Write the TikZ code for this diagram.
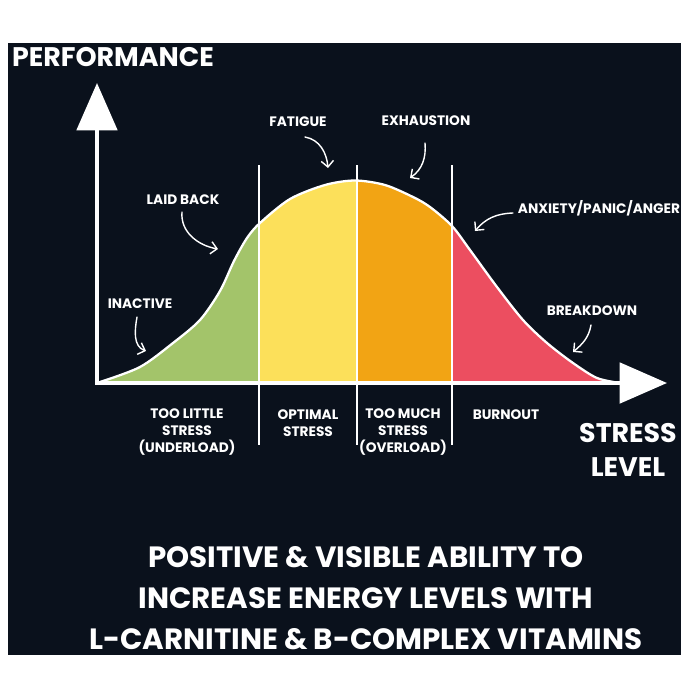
\documentclass[tikz,border=0pt]{standalone}
\usepackage{fontspec}
\setmainfont{Poppins}
\usetikzlibrary{arrows.meta}
\definecolor{bgnavy}{HTML}{0A111C}
\definecolor{lowgreen}{HTML}{A3C46A}
\definecolor{optyellow}{HTML}{FCE05A}
\definecolor{overorange}{HTML}{F2A414}
\definecolor{burnred}{HTML}{EC4E60}
\tikzset{lbl/.style={
    text=white,
    font=\bfseries\fontsize{7.8}{9.6}\selectfont,
    align=center,
    inner sep=0pt
  },
  axislbl/.style={lbl,font=\bfseries\fontsize{15.3}{19.3}\selectfont},
  titlelbl/.style={lbl,font=\bfseries\fontsize{16.7}{23.5}\selectfont},
  axisline/.style={white,line width=2.3pt,line cap=rect,-{Triangle[length=27pt,width=23pt]}},
  zoneline/.style={white,line width=1.1pt},
  pointer/.style={white,line width=0.8pt,line cap=round,-{Straight Barb[length=3.5pt,width=7pt]}},
}
\def\bellpath{plot[smooth] coordinates {(100,382) (140,367) (173,343) (200,320) (220,291)
  (234,261) (247,238) (260,223) (290,199) (325,185) (355,180.5) (385,185) (413,197)
  (430,207) (452,226) (470,250) (497,287) (523,320) (547,343) (573,363) (597,378) (620,383)}}

\begin{document}
\begin{tikzpicture}[x=0.02cm,y=-0.02cm]
  \fill[white] (0,0) rectangle (690,700);
  \useasboundingbox (0,0) rectangle (690,700);
  \fill[bgnavy] (8,43) rectangle (681,655);

  \begin{scope}
    \clip \bellpath -- cycle;
    \fill[lowgreen] (90,390) rectangle (259,150);
    \fill[optyellow] (259,390) rectangle (357,150);
    \fill[overorange] (357,390) rectangle (452,150);
    \fill[burnred] (452,390) rectangle (650,150);
  \end{scope}
  \draw[white,line width=1.3pt] \bellpath;

  \foreach \x in {259,357,452}
    \draw[zoneline] (\x,165) -- (\x,445);

  \coordinate (origin) at (97,383);
  \coordinate (ytip) at (97,83);
  \coordinate (xtip) at (667,383);
  \draw[axisline] (origin) -- (ytip);
  \draw[axisline] (origin) -- (xtip);

  \node[axislbl] (perf) at (113,57.5) {PERFORMANCE};
  \node[axislbl] (stress) at (628,450) {STRESS\\LEVEL};

  \node[lbl] (fatigue) at (298,122) {FATIGUE};
  \node[lbl] (exhaust) at (426,121) {EXHAUSTION};
  \node[lbl] (laidback) at (183,200) {LAID BACK};
  \node[lbl] (anxiety) at (599,208) {ANXIETY/PANIC/ANGER};
  \node[lbl] (inactive) at (140,304) {INACTIVE};
  \node[lbl] (breakdown) at (592,311) {BREAKDOWN};

  \node[lbl] (under) at (187,432) {TOO LITTLE\\STRESS\\(UNDERLOAD)};
  \node[lbl] (optimal) at (308,423.5) {OPTIMAL\\STRESS};
  \node[lbl] (over) at (403,432) {TOO MUCH\\STRESS\\(OVERLOAD)};
  \node[lbl] (burnout) at (506,415) {BURNOUT};

  \node[titlelbl] (claim) at (366,598) {POSITIVE \& VISIBLE ABILITY TO\\
    INCREASE ENERGY LEVELS WITH\\L-CARNITINE \& B-COMPLEX VITAMINS};

  \coordinate (fatigueA) at (305,137);
  \coordinate (fatigueB) at (328,168);
  \coordinate (exhaustA) at (425,143);
  \coordinate (exhaustB) at (410,178);
  \coordinate (laidA) at (182,212);
  \coordinate (laidB) at (218,249);
  \coordinate (anxietyA) at (513,213);
  \coordinate (anxietyB) at (475,231);
  \coordinate (inactiveA) at (137,317);
  \coordinate (inactiveB) at (146,351);
  \coordinate (breakA) at (591,325);
  \coordinate (breakB) at (573,352);
  \draw[pointer] (fatigueA) to[out=-10,in=95] (fatigueB);
  \draw[pointer] (exhaustA) to[out=-85,in=35] (exhaustB);
  \draw[pointer] (laidA) to[out=-95,in=170] (laidB);
  \draw[pointer] (anxietyA) to[out=182,in=50] (anxietyB);
  \draw[pointer] (inactiveA) to[out=-100,in=160] (inactiveB);
  \draw[pointer] (breakA) to[out=-100,in=40] (breakB);
\end{tikzpicture}
\end{document}
